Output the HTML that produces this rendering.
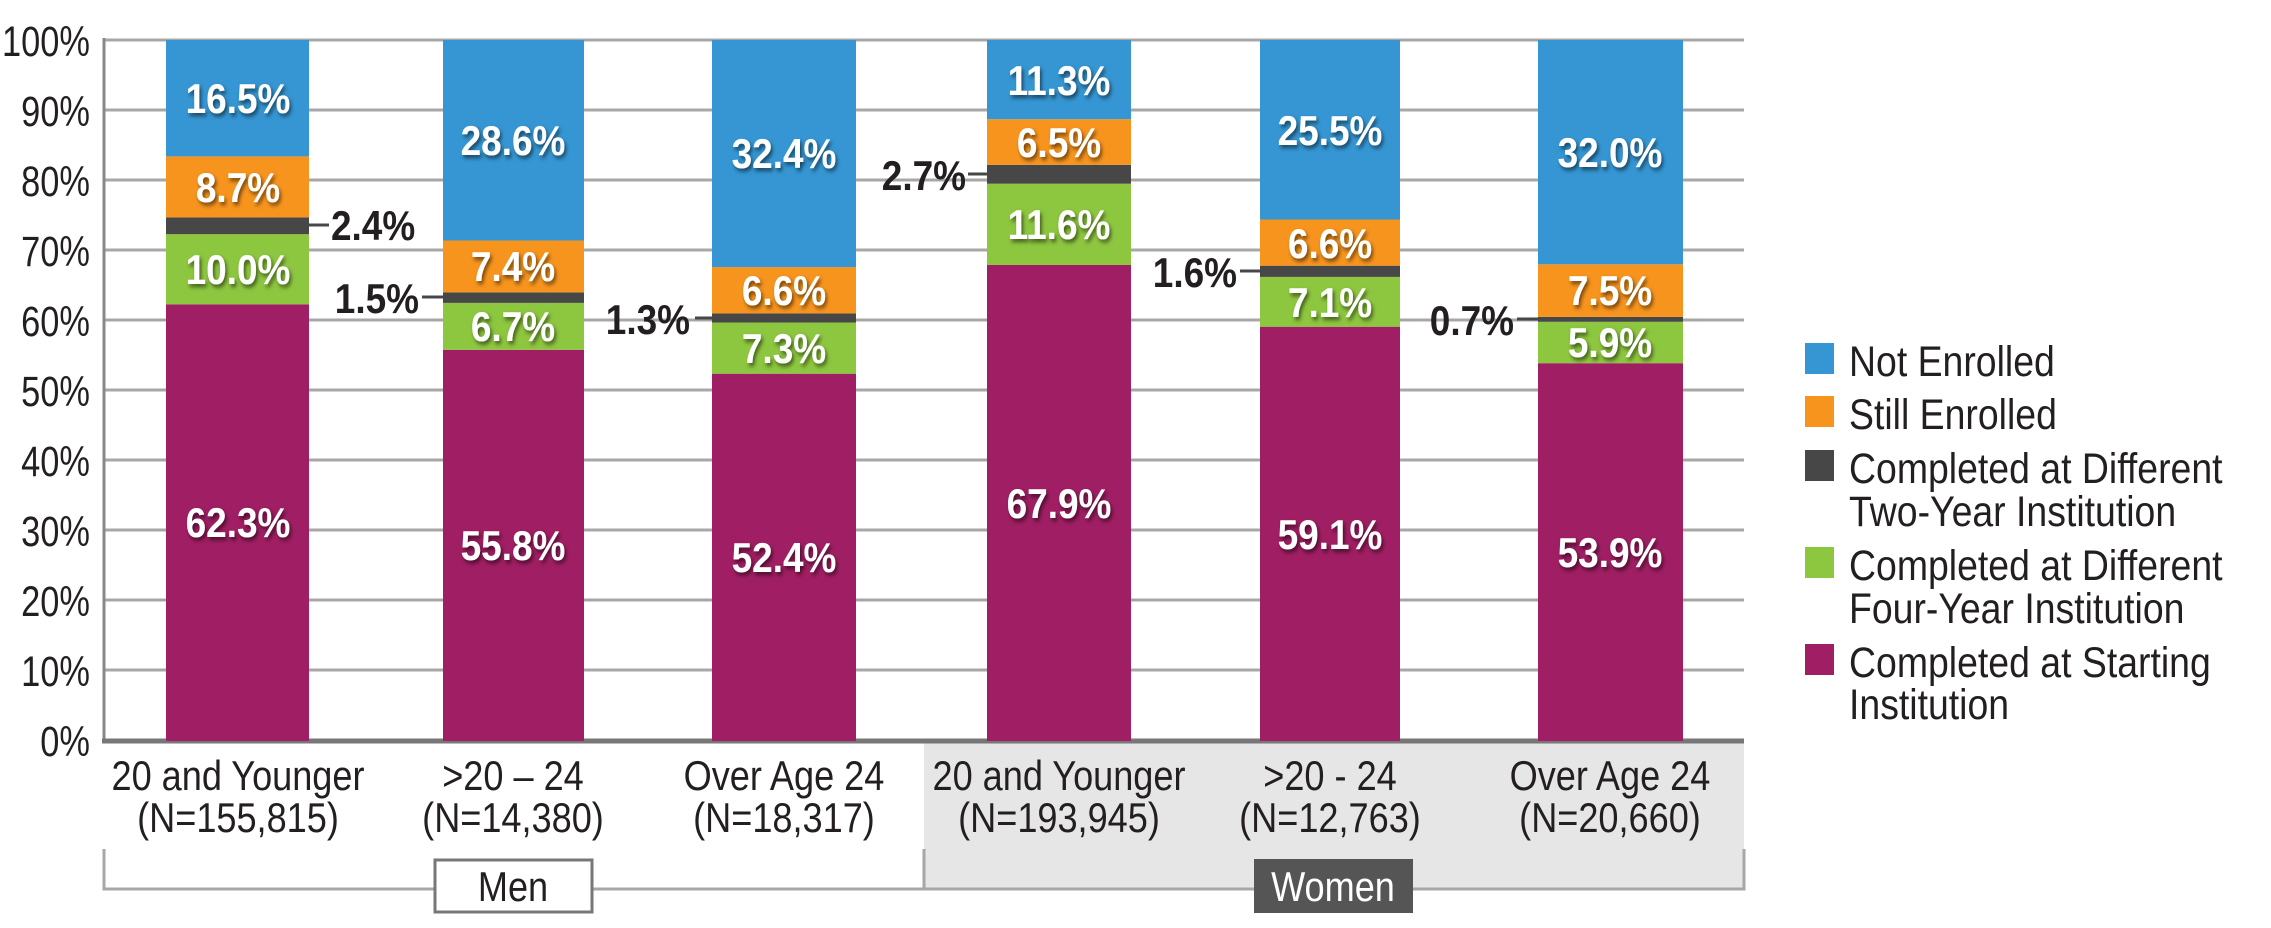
<!DOCTYPE html>
<html><head><meta charset="utf-8"><style>
html,body{margin:0;padding:0;background:#fff}
svg{display:block}
text{font-family:"Liberation Sans",sans-serif;transform-box:fill-box}
.tk{font-size:43px;fill:#231f20;text-anchor:end;transform-origin:right center;transform:scaleX(0.8)}
.cat{font-size:42px;fill:#231f20;text-anchor:middle;transform-origin:center;transform:scaleX(0.86)}
.dl{font-size:42px;font-weight:bold;fill:#fff;text-anchor:middle;filter:url(#sh);transform-origin:center;transform:scaleX(0.88)}
.sl{font-size:42px;font-weight:bold;fill:#231f20}
.sl .l{transform-origin:left center;transform:scaleX(0.88)}
.sl .r{text-anchor:end;transform-origin:right center;transform:scaleX(0.88)}
.lg{font-size:43px;fill:#231f20;transform-origin:left center;transform:scaleX(0.87)}
</style></head><body>
<svg width="2271" height="928" viewBox="0 0 2271 928" xmlns="http://www.w3.org/2000/svg">
<defs><filter id="sh" x="-20%" y="-20%" width="140%" height="150%"><feDropShadow dx="2" dy="3" stdDeviation="2" flood-color="#000" flood-opacity="0.55"/></filter></defs>
<rect x="924" y="741" width="820" height="148" fill="#e6e6e6"/>
<g stroke="#a7a7a7" stroke-width="3">
<line x1="104" y1="40" x2="1744" y2="40"/><line x1="104" y1="110" x2="1744" y2="110"/>
<line x1="104" y1="180" x2="1744" y2="180"/><line x1="104" y1="250" x2="1744" y2="250"/>
<line x1="104" y1="320" x2="1744" y2="320"/><line x1="104" y1="390" x2="1744" y2="390"/>
<line x1="104" y1="460" x2="1744" y2="460"/><line x1="104" y1="530" x2="1744" y2="530"/>
<line x1="104" y1="600" x2="1744" y2="600"/><line x1="104" y1="670" x2="1744" y2="670"/>
</g>
<line x1="104" y1="38" x2="104" y2="741" stroke="#888" stroke-width="3"/>
<line x1="102" y1="741" x2="1744" y2="741" stroke="#777" stroke-width="5"/>
<g>
<text class="tk" x="90" y="56">100%</text><text class="tk" x="90" y="126">90%</text><text class="tk" x="90" y="196">80%</text>
<text class="tk" x="90" y="266">70%</text><text class="tk" x="90" y="336">60%</text><text class="tk" x="90" y="406">50%</text>
<text class="tk" x="90" y="476">40%</text><text class="tk" x="90" y="546">30%</text><text class="tk" x="90" y="616">20%</text>
<text class="tk" x="90" y="686">10%</text><text class="tk" x="90" y="756">0%</text>
</g>
<g>
<rect x="166" y="304.3" width="143" height="436.7" fill="#a01e63"/><rect x="166" y="234.2" width="143" height="70.1" fill="#8dc63f"/><rect x="166" y="217.4" width="143" height="16.8" fill="#474747"/><rect x="166" y="156.4" width="143" height="61" fill="#f7941d"/><rect x="166" y="40" width="143" height="116.4" fill="#3596d3"/>
<rect x="443" y="349.8" width="141" height="391.2" fill="#a01e63"/><rect x="443" y="302.9" width="141" height="46.9" fill="#8dc63f"/><rect x="443" y="292.4" width="141" height="10.5" fill="#474747"/><rect x="443" y="240.5" width="141" height="51.9" fill="#f7941d"/><rect x="443" y="40" width="141" height="200.5" fill="#3596d3"/>
<rect x="712" y="373.7" width="144" height="367.3" fill="#a01e63"/><rect x="712" y="322.5" width="144" height="51.2" fill="#8dc63f"/><rect x="712" y="313.4" width="144" height="9.1" fill="#474747"/><rect x="712" y="267.1" width="144" height="46.3" fill="#f7941d"/><rect x="712" y="40" width="144" height="227.1" fill="#3596d3"/>
<rect x="987" y="265" width="144" height="476" fill="#a01e63"/><rect x="987" y="183.7" width="144" height="81.3" fill="#8dc63f"/><rect x="987" y="164.8" width="144" height="18.9" fill="#474747"/><rect x="987" y="119.2" width="144" height="45.6" fill="#f7941d"/><rect x="987" y="40" width="144" height="79.2" fill="#3596d3"/>
<rect x="1260" y="326.7" width="140" height="414.3" fill="#a01e63"/><rect x="1260" y="276.9" width="140" height="49.8" fill="#8dc63f"/><rect x="1260" y="265.7" width="140" height="11.2" fill="#474747"/><rect x="1260" y="219.5" width="140" height="46.2" fill="#f7941d"/><rect x="1260" y="40" width="140" height="179.5" fill="#3596d3"/>
<rect x="1538" y="363.2" width="145" height="377.8" fill="#a01e63"/><rect x="1538" y="321.8" width="145" height="41.4" fill="#8dc63f"/><rect x="1538" y="316.9" width="145" height="4.9" fill="#474747"/><rect x="1538" y="264.3" width="145" height="52.6" fill="#f7941d"/><rect x="1538" y="40" width="145" height="224.3" fill="#3596d3"/>
</g>
<g>
<text class="dl" x="238" y="537">62.3%</text><text class="dl" x="238" y="284">10.0%</text><text class="dl" x="238" y="202">8.7%</text><text class="dl" x="238" y="113">16.5%</text>
<text class="dl" x="513" y="560">55.8%</text><text class="dl" x="513" y="341">6.7%</text><text class="dl" x="513" y="281">7.4%</text><text class="dl" x="513" y="155">28.6%</text>
<text class="dl" x="784" y="572">52.4%</text><text class="dl" x="784" y="363">7.3%</text><text class="dl" x="784" y="305">6.6%</text><text class="dl" x="784" y="168">32.4%</text>
<text class="dl" x="1059" y="518">67.9%</text><text class="dl" x="1059" y="239">11.6%</text><text class="dl" x="1059" y="157">6.5%</text><text class="dl" x="1059" y="95">11.3%</text>
<text class="dl" x="1330" y="549">59.1%</text><text class="dl" x="1330" y="317">7.1%</text><text class="dl" x="1330" y="258">6.6%</text><text class="dl" x="1330" y="145">25.5%</text>
<text class="dl" x="1610" y="567">53.9%</text><text class="dl" x="1610" y="357">5.9%</text><text class="dl" x="1610" y="305">7.5%</text><text class="dl" x="1610" y="167">32.0%</text>
</g>
<g stroke="#474747" stroke-width="3">
<line x1="309" y1="225" x2="329" y2="225"/><line x1="422" y1="297" x2="443" y2="297"/>
<line x1="695" y1="318" x2="712" y2="318"/><line x1="968" y1="174" x2="987" y2="174"/>
<line x1="1240" y1="271" x2="1260" y2="271"/><line x1="1517" y1="319" x2="1538" y2="319"/>
</g>
<g class="sl">
<text class="l" x="331" y="240">2.4%</text>
<text class="r" x="419" y="313">1.5%</text>
<text class="r" x="690" y="334">1.3%</text>
<text class="r" x="966" y="190">2.7%</text>
<text class="r" x="1237" y="287">1.6%</text>
<text class="r" x="1514" y="335">0.7%</text>
</g>
<g>
<text class="cat" x="238" y="790">20 and Younger</text><text class="cat" x="238" y="832">(N=155,815)</text>
<text class="cat" x="513" y="790">&gt;20 – 24</text><text class="cat" x="513" y="832">(N=14,380)</text>
<text class="cat" x="784" y="790">Over Age 24</text><text class="cat" x="784" y="832">(N=18,317)</text>
<text class="cat" x="1059" y="790">20 and Younger</text><text class="cat" x="1059" y="832">(N=193,945)</text>
<text class="cat" x="1330" y="790">&gt;20 - 24</text><text class="cat" x="1330" y="832">(N=12,763)</text>
<text class="cat" x="1610" y="790">Over Age 24</text><text class="cat" x="1610" y="832">(N=20,660)</text>
</g>
<g stroke="#a7a7a7" stroke-width="3" fill="none">
<polyline points="104,849 104,889 1744,889 1744,849"/>
<line x1="924" y1="849" x2="924" y2="889"/>
</g>
<rect x="435" y="860" width="157" height="52" fill="#fff" stroke="#777" stroke-width="3"/>
<text x="513" y="901" class="cat">Men</text>
<rect x="1254" y="859" width="159" height="54" fill="#555"/>
<text x="1333" y="901" class="cat" style="fill:#fff">Women</text>
<rect x="1805" y="343" width="29" height="31" fill="#3596d3"/>
<rect x="1805" y="396" width="29" height="31" fill="#f7941d"/>
<rect x="1805" y="450" width="29" height="31" fill="#474747"/>
<rect x="1805" y="547" width="29" height="31" fill="#8dc63f"/>
<rect x="1805" y="644" width="29" height="31" fill="#a01e63"/>
<g>
<text class="lg" x="1849" y="376">Not Enrolled</text>
<text class="lg" x="1849" y="429">Still Enrolled</text>
<text class="lg" x="1849" y="483">Completed at Different</text>
<text class="lg" x="1849" y="526">Two-Year Institution</text>
<text class="lg" x="1849" y="580">Completed at Different</text>
<text class="lg" x="1849" y="623">Four-Year Institution</text>
<text class="lg" x="1849" y="677">Completed at Starting</text>
<text class="lg" x="1849" y="719">Institution</text>
</g>
</svg>
</body></html>
